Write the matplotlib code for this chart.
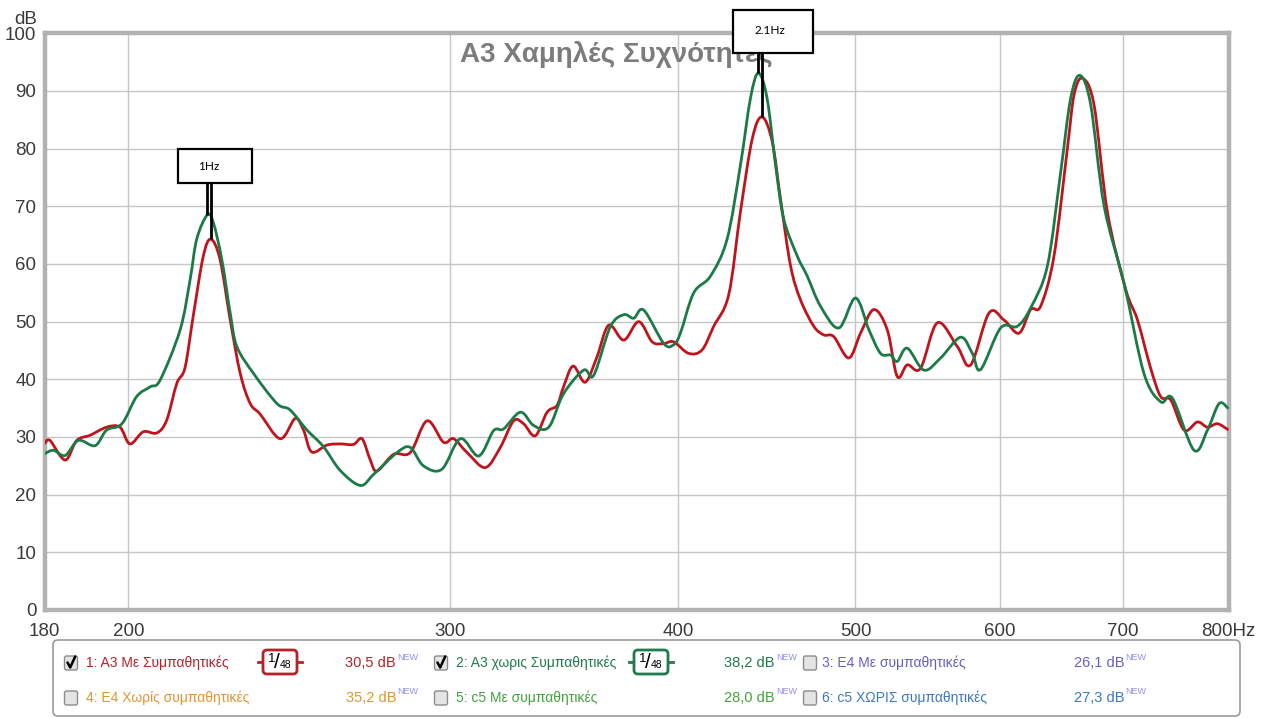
import matplotlib
matplotlib.use("Agg")
import matplotlib.pyplot as plt
from matplotlib import font_manager as fm
from matplotlib.patches import Rectangle, FancyBboxPatch, PathPatch
from matplotlib.path import Path
from matplotlib.ticker import NullLocator
import numpy as np

# ---- data -------------------------------------------------------------
red_hz = [180, 181.2, 184.7, 187.4, 190.6, 194.6, 197.9, 200.4, 203.8, 207.3,
          209.9, 212.6, 214.8, 217.1, 219.8, 221.9, 224.5, 227.4, 230.3, 233.2,
          236.1, 242.2, 246.8, 249.4, 252.0, 256.9, 261.2, 265.6, 268.5, 271.3,
          273.6, 279.4, 285.3, 291.4, 297.5, 301.3, 306.5, 313.6, 319.6, 325.0,
          329.1, 334.0, 339.0, 343.3, 346.1, 350.3, 355.7, 361.0, 366.4, 373.4,
          380.5, 387.0, 392.7, 397.6, 405.2, 412.1, 418.2, 426.2, 432.5, 439.0,
          444.5, 450.2, 454.9, 460.7, 466.5, 474.4, 480.4, 486.5, 495.8, 503.2,
          511.7, 520.4, 527.0, 533.7, 542.7, 554.3, 568.4, 578.1, 591.6, 602.8,
          614.4, 623.5, 631.4, 642.1, 653.0, 658.5, 665.5, 675.3, 686.8, 702.8,
          713.3, 725.3, 734.5, 743.9, 756.5, 769.3, 779.1, 789.0, 800]
red_db = [28.8, 29.4, 26.0, 29.4, 30.3, 31.7, 31.7, 28.8, 30.9, 30.7,
          32.9, 39.3, 42.0, 51.2, 61.3, 64.3, 60.8, 50.3, 41.0, 35.8,
          34.0, 29.7, 33.2, 31.2, 27.4, 28.6, 28.8, 28.7, 29.7, 26.0,
          24.1, 27.0, 27.3, 32.8, 29.1, 29.7, 27.3, 24.7, 28.2, 32.8,
          32.3, 30.2, 34.3, 35.5, 38.7, 42.3, 39.5, 43.9, 49.4, 46.8,
          50.0, 46.5, 46.2, 46.5, 44.5, 45.1, 49.2, 54.7, 69.0, 81.7,
          85.5, 81.2, 71.3, 59.7, 53.8, 49.2, 47.7, 47.4, 43.7, 48.0,
          52.1, 48.6, 40.5, 42.5, 41.9, 49.8, 45.7, 42.5, 51.5, 50.3,
          48.0, 52.1, 52.7, 61.4, 80.0, 89.3, 92.2, 87.6, 69.0, 55.6,
          50.3, 41.9, 37.0, 36.4, 31.2, 32.6, 31.7, 32.3, 31.2]

green_hz = [180, 182.0, 184.7, 187.8, 191.8, 194.6, 198.4, 202.1, 205.6, 208.2,
            213.5, 216.2, 218.0, 220.9, 222.6, 225.0, 227.4, 229.3, 234.2, 241.2,
            245.2, 250.5, 255.8, 261.2, 267.9, 272.4, 280.6, 285.3, 290.1, 296.9,
            303.9, 311.0, 316.9, 320.9, 327.8, 333.3, 339.7, 346.1, 355.0, 359.5,
            367.1, 373.4, 378.1, 382.9, 392.7, 397.6, 401.0, 407.8, 416.5, 425.3,
            432.5, 438.0, 442.4, 447.3, 452.1, 456.8, 464.6, 470.5, 478.4, 489.6,
            500.0, 508.5, 516.0, 522.6, 527.0, 533.7, 545.0, 556.6, 570.8, 579.3,
            585.4, 600.3, 613.1, 623.5, 636.8, 647.5, 655.7, 663.5, 672.5, 683.9,
            701.3, 719.2, 734.5, 745.5, 766.0, 779.1, 790.6, 800]
green_db = [27.1, 27.7, 26.8, 29.4, 28.5, 31.2, 32.3, 37.0, 38.7, 39.9,
            48.6, 57.3, 64.3, 68.5, 67.2, 60.8, 51.5, 45.7, 41.0, 35.8,
            34.7, 31.2, 28.3, 24.2, 21.6, 23.5, 27.3, 28.2, 25.0, 24.4,
            29.7, 26.7, 31.1, 31.4, 34.3, 32.0, 31.7, 37.5, 41.6, 40.7,
            49.1, 51.2, 50.6, 52.0, 46.2, 46.0, 48.0, 55.0, 57.9, 64.3,
            77.1, 88.7, 93.1, 88.7, 77.1, 67.8, 61.4, 57.9, 52.7, 48.9,
            54.1, 48.6, 44.5, 44.2, 43.1, 45.4, 41.6, 43.7, 47.3, 44.5,
            41.7, 48.9, 49.2, 52.4, 59.7, 75.9, 88.7, 92.7, 87.6, 70.1,
            56.7, 41.0, 36.1, 36.7, 27.7, 31.2, 35.8, 34.9]

x_ticks = [180, 200, 300, 400, 500, 600, 700, 800]
x_tick_labels = ["180", "200", "300", "400", "500", "600", "700", "800Hz"]
y_ticks = [0, 10, 20, 30, 40, 50, 60, 70, 80, 90, 100]

title = "A3 Χαμηλές Συχνότητες"

# peak-difference markers: label, search window (Hz), box extent (Hz, dB)
marker_labels = ["1Hz", "2.1Hz"]
marker_windows = [(205, 240), (420, 470)]
marker_boxes = [(212.9, 233.8, 74.0, 80.0), (428.7, 474.2, 96.5, 104.0)]
marker_text_pos = [(221.2, 76.9), (448.8, 100.4)]

# legend rows: (checked, label, colour, level, has_badge)
legend_items = [
    (True, "1: A3 Με Συμπαθητικές", "#b5222b", "30,5 dB", True),
    (True, "2: A3 χωρις Συμπαθητικές", "#1f7a4d", "38,2 dB", True),
    (False, "3: E4 Με συμπαθητικές", "#6460c4", "26,1 dB", False),
    (False, "4: E4 Χωρίς συμπαθητικές", "#e0962f", "35,2 dB", False),
    (False, "5: c5 Με συμπαθητικές", "#43a33e", "28,0 dB", False),
    (False, "6: c5 ΧΩΡΙΣ συμπαθητικές", "#3a78c4", "27,3 dB", False),
]

RED = "#c0141c"
GREEN = "#1b7a45"

# ---- fonts ------------------------------------------------------------
names = {f.name for f in fm.fontManager.ttflist}
NARROW = "Liberation Sans Narrow" if "Liberation Sans Narrow" in names else "Liberation Sans"
plt.rcParams["font.family"] = [NARROW, "DejaVu Sans"]
BOXFONT = ["Lato", "DejaVu Sans"]

W, H = 1264, 718
fig = plt.figure(figsize=(W / 100, H / 100), dpi=100)
fig.patch.set_facecolor("white")

x0, x1, ytop, ybot = 44.7, 1228.5, 33.3, 610.0
ax = fig.add_axes([x0 / W, 1 - ybot / H, (x1 - x0) / W, (ybot - ytop) / H])
ax.set_xscale("log")
ax.set_xlim(180, 800)
ax.set_ylim(0, 100)
ax.set_xticks(x_ticks)
ax.set_xticklabels(x_tick_labels)
ax.xaxis.set_minor_locator(NullLocator())
ax.set_yticks(y_ticks)
ax.tick_params(axis="both", length=0, labelsize=13.5, colors="#3a3a3a")
ax.tick_params(axis="y", pad=6)
ax.tick_params(axis="x", pad=9)
ax.grid(True, color="#c6c6c6", lw=1.0)
ax.set_axisbelow(True)
for sp in ax.spines.values():
    sp.set_color("#b2b2b2")
    sp.set_linewidth(3.2)


def smooth_curve(hz, db, colour, z):
    """Draw the measured points joined by Catmull-Rom style Bezier segments
    (computed on the log-frequency axis)."""
    lx = np.log10(np.asarray(hz, float))
    yy = np.asarray(db, float)
    pts = np.column_stack([lx, yy])
    n = len(pts)
    verts = [pts[0]]
    codes = [Path.MOVETO]
    for i in range(n - 1):
        pa = pts[i - 1] if i > 0 else pts[i]
        pd = pts[i + 2] if i + 2 < n else pts[i + 1]
        c1 = pts[i] + (pts[i + 1] - pa) / 6.0
        c2 = pts[i + 1] - (pd - pts[i]) / 6.0
        verts += [c1, c2, pts[i + 1]]
        codes += [Path.CURVE4] * 3
    verts = np.array(verts)
    verts[:, 0] = 10 ** verts[:, 0]
    ax.add_patch(PathPatch(Path(verts, codes), facecolor="none", edgecolor=colour,
                           lw=2.0, joinstyle="round", zorder=z))


smooth_curve(red_hz, red_db, RED, 3)
smooth_curve(green_hz, green_db, GREEN, 4)

ax.text((616 - x0) / (x1 - x0), (ybot - 62) / (ybot - ytop), title,
        transform=ax.transAxes, ha="center", va="baseline", fontsize=20,
        color="#7c7c7c", fontweight="bold", zorder=2)

# peak markers with leader lines to each curve's maximum
for lab, (lo, hi), (bx0, bx1, by0, by1), (tx, ty) in zip(
        marker_labels, marker_windows, marker_boxes, marker_text_pos):
    for hz, db in ((green_hz, green_db), (red_hz, red_db)):
        hz_a, db_a = np.array(hz), np.array(db)
        sel = (hz_a >= lo) & (hz_a <= hi)
        i = np.argmax(np.where(sel, db_a, -1))
        ax.plot([hz_a[i], hz_a[i]], [db_a[i], by0], color="black", lw=2.0,
                clip_on=False, zorder=6, solid_capstyle="butt")
    ax.add_patch(Rectangle((bx0, by0), bx1 - bx0, by1 - by0, facecolor="white",
                           edgecolor="black", lw=1.6, clip_on=False, zorder=7))
    ax.text(tx, ty, lab, ha="center", va="center", fontsize=8.5,
            family=BOXFONT, color="black", zorder=8, clip_on=False)

# ---- overlay in pixel coordinates (y downwards) -------------------------
ov = fig.add_axes([0, 0, 1, 1])
ov.set_xlim(0, W)
ov.set_ylim(H, 0)
ov.axis("off")
ov.patch.set_visible(False)

ov.text(37, 19, "dB", ha="right", va="center", fontsize=13.5, color="#3a3a3a")

ov.add_patch(FancyBboxPatch((53, 640), 1187, 76,
                            boxstyle="round,pad=0,rounding_size=5",
                            facecolor="white", edgecolor="#9a9a9a", lw=1.2))

col_check = [71, 441, 810]
col_label = [86, 456, 822]
col_level = [396, 775, 1124]
row_y = [663, 698]
badge_x = [280, 651]


def checkbox(cx, cy, checked):
    ov.add_patch(FancyBboxPatch((cx - 6.5, cy - 7), 13, 14,
                                boxstyle="round,pad=0,rounding_size=2",
                                facecolor="#e4e4e4", edgecolor="#8c8c8c", lw=1.0,
                                zorder=3))
    if checked:
        ov.plot([cx - 3.5, cx - 0.8, cx + 4.2], [cy - 0.5, cy + 4.5, cy - 6.5],
                color="black", lw=1.8, solid_capstyle="round", zorder=4)


def badge(cx, cy, colour):
    ov.plot([cx - 22, cx + 22], [cy, cy], color=colour, lw=2.0, zorder=2)
    ov.add_patch(FancyBboxPatch((cx - 17, cy - 12), 34, 24,
                                boxstyle="round,pad=0,rounding_size=4",
                                facecolor="white", edgecolor=colour, lw=2.0, zorder=3))
    ov.text(cx - 8, cy - 3, "1", ha="center", va="center", fontsize=9.5,
            color="black", zorder=4)
    ov.text(cx - 3, cy, "/", ha="center", va="center", fontsize=15,
            color="black", zorder=4)
    ov.text(cx + 6, cy + 3.5, "48", ha="center", va="center", fontsize=7.5,
            color="black", zorder=4)


for k, (checked, label, colour, level, has_badge) in enumerate(legend_items):
    row, col = divmod(k, 3)
    cy = row_y[row]
    checkbox(col_check[col], cy, checked)
    ov.text(col_label[col], cy, label, ha="left", va="center", fontsize=10,
            color=colour, zorder=4)
    if has_badge:
        badge(badge_x[col], cy - 1, colour)
    ov.text(col_level[col], cy, level, ha="right", va="center", fontsize=10.5,
            color=colour, zorder=4)
    ov.text(col_level[col] + 1, cy - 6, "NEW", ha="left", va="center", fontsize=6.5,
            color="#8f8ff2", zorder=4)

fig.savefig("out.png", dpi=100, facecolor="white")
